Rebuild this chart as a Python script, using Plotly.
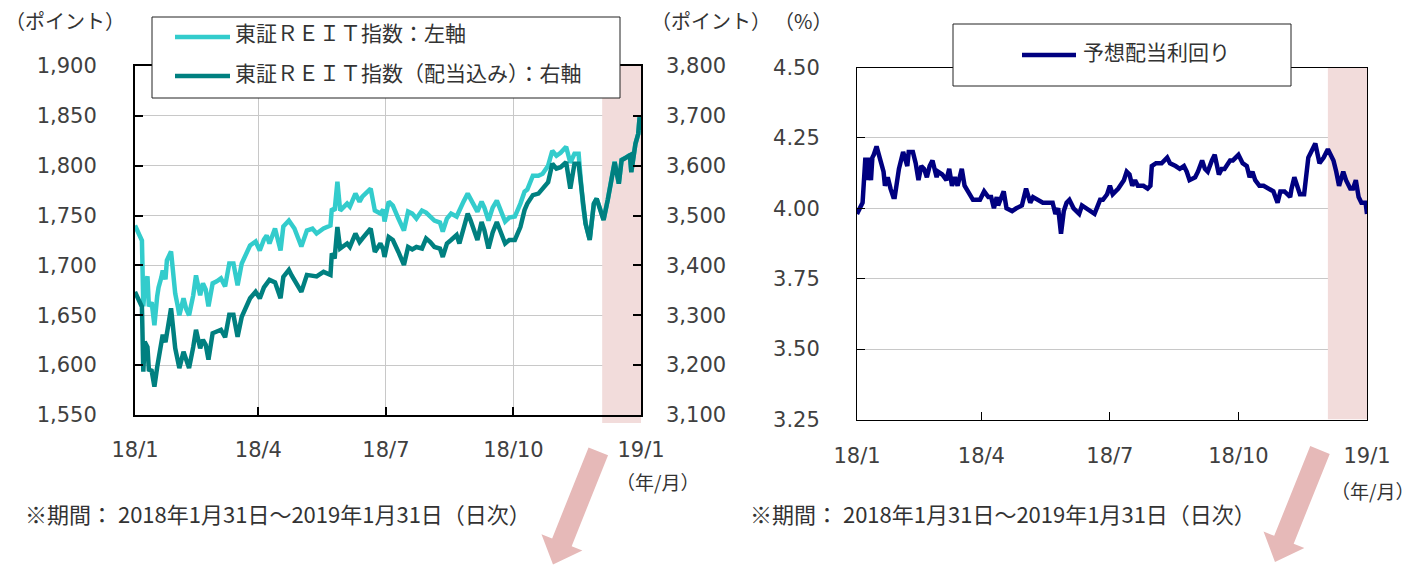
import plotly.graph_objects as go
import math

# ---------------- data ----------------
reit_dates = [
    "2018-01-31", "2018-02-05", "2018-02-06", "2018-02-07", "2018-02-09", "2018-02-10", "2018-02-12", "2018-02-14", "2018-02-16", "2018-02-17",
    "2018-02-19", "2018-02-20", "2018-02-22", "2018-02-23", "2018-02-26", "2018-03-01", "2018-03-03", "2018-03-04", "2018-03-07", "2018-03-09",
    "2018-03-11", "2018-03-14", "2018-03-16", "2018-03-19", "2018-03-21", "2018-03-23", "2018-03-25", "2018-03-28", "2018-03-31", "2018-04-03",
    "2018-04-06", "2018-04-09", "2018-04-12", "2018-04-15", "2018-04-18", "2018-04-21", "2018-04-24", "2018-04-28", "2018-05-01", "2018-05-04",
    "2018-05-06", "2018-05-08", "2018-05-12", "2018-05-16", "2018-05-18", "2018-05-22", "2018-05-24", "2018-05-26", "2018-05-31", "2018-06-04",
    "2018-06-08", "2018-06-11", "2018-06-16", "2018-06-21", "2018-06-22", "2018-06-24", "2018-06-26", "2018-06-28", "2018-07-03", "2018-07-05",
    "2018-07-09", "2018-07-12", "2018-07-14", "2018-07-20", "2018-07-23", "2018-07-27", "2018-07-29", "2018-07-30", "2018-08-02", "2018-08-05",
    "2018-08-09", "2018-08-13", "2018-08-16", "2018-08-19", "2018-08-22", "2018-08-26", "2018-08-29", "2018-09-01", "2018-09-04", "2018-09-08",
    "2018-09-10", "2018-09-13", "2018-09-16", "2018-09-20", "2018-09-22", "2018-09-25", "2018-09-28", "2018-09-30", "2018-10-05", "2018-10-08",
    "2018-10-10", "2018-10-13", "2018-10-16", "2018-10-19", "2018-10-21", "2018-10-25", "2018-10-28", "2018-11-01", "2018-11-05", "2018-11-08",
    "2018-11-10", "2018-11-14", "2018-11-18", "2018-11-21", "2018-11-25", "2018-11-28", "2018-12-01", "2018-12-04", "2018-12-08", "2018-12-11",
    "2018-12-14", "2018-12-17", "2018-12-20", "2018-12-22", "2018-12-25", "2018-12-28", "2018-12-30", "2019-01-01", "2019-01-04", "2019-01-07",
    "2019-01-09", "2019-01-12", "2019-01-15", "2019-01-17", "2019-01-20", "2019-01-23", "2019-01-24", "2019-01-27", "2019-01-29", "2019-01-30",
    "2019-01-31",
]
reit_index = [
    1740, 1725, 1659, 1678, 1689, 1659, 1663, 1640, 1669, 1678,
    1688, 1695, 1686, 1705, 1714, 1672, 1658, 1650, 1667, 1656,
    1650, 1670, 1690, 1670, 1682, 1676, 1659, 1682, 1684, 1687,
    1679, 1702, 1702, 1680, 1702, 1712, 1720, 1724, 1715, 1726,
    1730, 1722, 1737, 1715, 1739, 1745, 1740, 1737, 1719, 1735,
    1737, 1732, 1737, 1740, 1757, 1755, 1784, 1755, 1762, 1759,
    1772, 1764, 1769, 1777, 1755, 1752, 1756, 1744, 1764, 1760,
    1747, 1735, 1754, 1752, 1747, 1755, 1753, 1749, 1745, 1743,
    1734, 1747, 1752, 1749, 1756, 1764, 1772, 1767, 1754, 1764,
    1758, 1745, 1758, 1765, 1758, 1744, 1748, 1749, 1762, 1774,
    1776, 1790, 1790, 1792, 1800, 1815, 1810, 1813, 1819, 1803,
    1812, 1812, 1762, 1742, 1726, 1762, 1767, 1758, 1746, 1766,
    1783, 1804, 1782, 1806, 1808, 1811, 1794, 1822, 1832, 1849,
    1836,
]
reit_total_return = [
    3347, 3317, 3187, 3247, 3236, 3191, 3189, 3157, 3196, 3211,
    3236, 3261, 3246, 3266, 3314, 3234, 3211, 3194, 3227, 3208,
    3194, 3236, 3271, 3234, 3251, 3241, 3211, 3264, 3268, 3271,
    3256, 3301, 3301, 3257, 3297, 3318, 3334, 3347, 3334, 3356,
    3364, 3371, 3366, 3334, 3377, 3391, 3380, 3371, 3347, 3381,
    3378, 3378, 3387, 3381, 3424, 3414, 3477, 3434, 3444, 3437,
    3464, 3447, 3454, 3474, 3427, 3444, 3432, 3417, 3457, 3451,
    3427, 3401, 3437, 3432, 3437, 3434, 3454, 3447, 3437, 3434,
    3417, 3444, 3451, 3461, 3444, 3476, 3504, 3491, 3451, 3487,
    3471, 3434, 3466, 3487, 3474, 3444, 3451, 3451, 3477, 3511,
    3524, 3541, 3544, 3554, 3567, 3604, 3594, 3597, 3607, 3554,
    3604, 3604, 3524, 3484, 3451, 3524, 3534, 3516, 3491, 3531,
    3566, 3607, 3564, 3611, 3616, 3621, 3587, 3644, 3664, 3697,
    3671,
]

yield_dates = [
    "2018-01-31", "2018-02-04", "2018-02-06", "2018-02-07", "2018-02-08", "2018-02-10", "2018-02-11", "2018-02-12", "2018-02-14", "2018-02-16",
    "2018-02-19", "2018-02-20", "2018-02-22", "2018-02-24", "2018-02-26", "2018-02-27", "2018-03-02", "2018-03-05", "2018-03-06", "2018-03-08",
    "2018-03-09", "2018-03-12", "2018-03-14", "2018-03-16", "2018-03-18", "2018-03-20", "2018-03-22", "2018-03-24", "2018-03-26", "2018-03-29",
    "2018-03-30", "2018-04-02", "2018-04-05", "2018-04-07", "2018-04-09", "2018-04-11", "2018-04-13", "2018-04-16", "2018-04-18", "2018-04-22",
    "2018-04-24", "2018-04-29", "2018-05-02", "2018-05-05", "2018-05-07", "2018-05-09", "2018-05-11", "2018-05-12", "2018-05-16", "2018-05-18",
    "2018-05-22", "2018-05-25", "2018-05-29", "2018-06-01", "2018-06-04", "2018-06-06", "2018-06-10", "2018-06-13", "2018-06-17", "2018-06-20",
    "2018-06-22", "2018-06-24", "2018-06-26", "2018-06-28", "2018-06-30", "2018-07-02", "2018-07-05", "2018-07-09", "2018-07-11", "2018-07-14",
    "2018-07-17", "2018-07-20", "2018-07-24", "2018-07-26", "2018-07-29", "2018-07-31", "2018-08-02", "2018-08-06", "2018-08-10", "2018-08-12",
    "2018-08-14", "2018-08-16", "2018-08-18", "2018-08-20", "2018-08-24", "2018-08-27", "2018-08-29", "2018-08-30", "2018-09-02", "2018-09-06",
    "2018-09-10", "2018-09-12", "2018-09-16", "2018-09-19", "2018-09-22", "2018-09-24", "2018-09-26", "2018-09-30", "2018-10-02", "2018-10-05",
    "2018-10-07", "2018-10-09", "2018-10-12", "2018-10-14", "2018-10-17", "2018-10-19", "2018-10-21", "2018-10-25", "2018-10-27", "2018-10-31",
    "2018-11-03", "2018-11-06", "2018-11-08", "2018-11-10", "2018-11-12", "2018-11-15", "2018-11-18", "2018-11-22", "2018-11-25", "2018-11-28",
    "2018-11-30", "2018-12-03", "2018-12-07", "2018-12-08", "2018-12-10", "2018-12-12", "2018-12-14", "2018-12-17", "2018-12-20", "2018-12-22",
    "2018-12-25", "2018-12-28", "2018-12-31", "2019-01-03", "2019-01-07", "2019-01-09", "2019-01-11", "2019-01-14", "2019-01-16", "2019-01-19",
    "2019-01-21", "2019-01-23", "2019-01-25", "2019-01-27", "2019-01-30", "2019-01-31",
]
dividend_yield = [
    3.98, 4.02, 4.18, 4.10, 4.18, 4.10, 4.18, 4.19, 4.22, 4.18,
    4.13, 4.08, 4.11, 4.07, 4.04, 4.04, 4.14, 4.20, 4.18, 4.15,
    4.20, 4.20, 4.16, 4.10, 4.15, 4.14, 4.11, 4.15, 4.17, 4.11,
    4.13, 4.12, 4.10, 4.14, 4.08, 4.11, 4.08, 4.14, 4.08, 4.05,
    4.03, 4.03, 4.06, 4.04, 4.04, 4.00, 4.04, 4.01, 4.06, 4.00,
    3.99, 4.00, 4.01, 4.07, 4.02, 4.04, 4.03, 4.02, 4.02, 4.02,
    3.98, 4.00, 3.91, 3.99, 4.02, 4.03, 4.00, 3.98, 4.01, 4.00,
    3.99, 3.98, 4.03, 4.03, 4.05, 4.08, 4.05, 4.07, 4.10, 4.13,
    4.12, 4.08, 4.10, 4.08, 4.08, 4.07, 4.08, 4.15, 4.16, 4.16,
    4.18, 4.16, 4.15, 4.14, 4.15, 4.13, 4.10, 4.11, 4.13, 4.17,
    4.14, 4.13, 4.17, 4.19, 4.12, 4.14, 4.14, 4.17, 4.17, 4.19,
    4.16, 4.15, 4.11, 4.13, 4.10, 4.08, 4.08, 4.07, 4.06, 4.02,
    4.06, 4.06, 4.04, 4.07, 4.11, 4.08, 4.05, 4.05, 4.18, 4.20,
    4.23, 4.16, 4.18, 4.21, 4.17, 4.13, 4.08, 4.13, 4.10, 4.07,
    4.07, 4.10, 4.04, 4.02, 4.02, 3.98,
]

series_names = ["東証ＲＥＩＴ指数：左軸", "東証ＲＥＩＴ指数（配当込み）：右軸", "予想配当利回り"]
x_range = ["2018-01-31", "2019-01-31"]
x_tickvals = ["2018-01-31", "2018-04-30", "2018-07-31", "2018-10-31", "2019-01-31"]
x_ticktext = ["18/1", "18/4", "18/7", "18/10", "19/1"]
left_ticks = [1550, 1600, 1650, 1700, 1750, 1800, 1850, 1900]
right_ticks = [3100, 3200, 3300, 3400, 3500, 3600, 3700, 3800]
yield_ticks = [3.25, 3.50, 3.75, 4.00, 4.25, 4.50]
highlight_period = ["2019-01-03", "2019-01-31"]
period_note = "※期間： 2018年1月31日～2019年1月31日（日次）"

# ---------------- styling ----------------
W, H = 1418, 566
def px(x):
    return x / W
def py(y):
    return 1 - y / H

CYAN = "#33CCCC"
TEAL = "#008080"
NAVY = "#000080"
PINK = "#F2DCDB"
ARROW = "#E6B9B8"
GRID = "#C8C8C8"
TXT = "#333333"
TICKFONT = dict(family="DejaVu Sans", size=21, color="#404040")
JP = "Noto Sans CJK JP"

fig = go.Figure()
fig.add_trace(go.Scatter(x=reit_dates, y=reit_index, mode="lines", name=series_names[0],
                         line=dict(color=CYAN, width=4.5), xaxis="x", yaxis="y"))
fig.add_trace(go.Scatter(x=reit_dates, y=reit_total_return, mode="lines", name=series_names[1],
                         line=dict(color=TEAL, width=4.5), xaxis="x", yaxis="y2"))
fig.add_trace(go.Scatter(x=yield_dates, y=dividend_yield, mode="lines", name=series_names[2],
                         line=dict(color=NAVY, width=4.5), xaxis="x2", yaxis="y3"))

L_dom_x = [px(135), px(641)]
L_dom_y = [py(415), py(66)]
R_dom_x = [px(857), px(1367)]
R_dom_y = [py(419.5), py(67.5)]

common_x = dict(type="date", range=x_range, tickmode="array", tickvals=x_tickvals, ticktext=x_ticktext,
                ticks="inside", ticklen=8, tickfont=TICKFONT, showline=True, mirror=True,
                linecolor="black", zeroline=False, automargin=False)

fig.update_layout(
    width=W, height=H, autosize=False,
    margin=dict(l=0, r=0, t=0, b=0, pad=0),
    paper_bgcolor="white", plot_bgcolor="white",
    showlegend=False,
    xaxis=dict(common_x, domain=L_dom_x, anchor="y", linewidth=2, tickwidth=2, tickcolor="black",
               showgrid=True, gridcolor=GRID, gridwidth=1, ticklabelstandoff=15),
    yaxis=dict(domain=L_dom_y, anchor="x", range=[1550, 1900], tickmode="array", tickvals=left_ticks,
               tickformat=",d", ticks="inside", ticklen=8, tickwidth=2, tickcolor="black",
               tickfont=TICKFONT, showline=True, mirror=True, linecolor="black", linewidth=2,
               showgrid=True, gridcolor=GRID, gridwidth=1, zeroline=False, ticklabelstandoff=32,
               automargin=False),
    yaxis2=dict(overlaying="y", side="right", anchor="x", range=[3100, 3800], tickmode="array",
                tickvals=right_ticks, tickformat=",d", ticks="inside", ticklen=8, tickwidth=2,
                tickcolor="black", tickfont=TICKFONT, showline=False, showgrid=False, zeroline=False,
                ticklabelstandoff=24, automargin=False),
    xaxis2=dict(common_x, domain=R_dom_x, anchor="y3", linewidth=1, tickwidth=1, tickcolor="black",
                showgrid=False, ticklabelstandoff=17),
    yaxis3=dict(domain=R_dom_y, anchor="x2", range=[3.25, 4.50], tickmode="array", tickvals=yield_ticks,
                tickformat=".2f", ticks="inside", ticklen=8, tickwidth=1, tickcolor="black",
                tickfont=TICKFONT, showline=True, mirror=True, linecolor="black", linewidth=1,
                showgrid=True, gridcolor=GRID, gridwidth=1, zeroline=False, ticklabelstandoff=32,
                automargin=False),
)

shapes = []
# highlighted period (shaded band)
shapes.append(dict(type="rect", xref="x", yref="y", x0=highlight_period[0], x1=highlight_period[1],
                   y0=1550, y1=1900, fillcolor=PINK, line=dict(width=0), layer="between"))
shapes.append(dict(type="rect", xref="x", yref="paper", x0=highlight_period[0], x1=highlight_period[1],
                   y0=py(423), y1=py(416), fillcolor=PINK, line=dict(width=0), layer="below"))
shapes.append(dict(type="rect", xref="x2", yref="y3", x0=highlight_period[0], x1=highlight_period[1],
                   y0=3.25, y1=4.50, fillcolor=PINK, line=dict(width=0), layer="between"))

# legend boxes (decoration)
def legend_box(x0, y0, x1, y1):
    shapes.append(dict(type="rect", xref="paper", yref="paper", x0=px(x0), x1=px(x1), y0=py(y1), y1=py(y0),
                       fillcolor="white", line=dict(color="#222222", width=1), layer="above"))

def legend_line(x0, x1, y, color):
    shapes.append(dict(type="line", xref="paper", yref="paper", x0=px(x0), x1=px(x1), y0=py(y), y1=py(y),
                       line=dict(color=color, width=4.5), layer="above"))

legend_box(152, 17, 620, 98)
legend_line(175, 230, 37, CYAN)
legend_line(175, 230, 76, TEAL)
legend_box(953, 24, 1291, 86)
legend_line(1022, 1076, 55, NAVY)

# down arrows (decoration)
def arrow_path(tx, ty, hx, hy, w=10.5, hw=22, hl=24):
    L = math.hypot(hx - tx, hy - ty)
    ux, uy = (hx - tx) / L, (hy - ty) / L
    nx, ny = -uy, ux
    cx, cy = tx + (L - hl) * ux, ty + (L - hl) * uy
    pts = [
        (tx - w * nx, ty - w * ny), (tx + w * nx, ty + w * ny),
        (cx + w * nx, cy + w * ny), (cx + hw * nx, cy + hw * ny),
        (hx, hy),
        (cx - hw * nx, cy - hw * ny), (cx - w * nx, cy - w * ny),
    ]
    d = "M " + " L ".join(f"{px(a):.5f},{py(b):.5f}" for a, b in pts) + " Z"
    return dict(type="path", xref="paper", yref="paper", path=d, fillcolor=ARROW,
                line=dict(width=0), layer="above")

shapes.append(arrow_path(598.3, 451.3, 553.0, 564.6))
shapes.append(arrow_path(1320.0, 450.0, 1275.0, 562.0))

annotations = []
def text(t, x, y, size=20, xanchor="center", color=TXT):
    annotations.append(dict(text=t, xref="paper", yref="paper", x=px(x), y=py(y), xanchor=xanchor,
                            yanchor="middle", showarrow=False, font=dict(family=JP, size=size, color=color)))

text("（ポイント）", 65, 20)
text("（ポイント）", 711, 20)
text("（%）", 803, 20)
text("（年/月）", 657, 481, size=19)
text("（年/月）", 1416, 490, size=19, xanchor="right")
text(period_note, 23, 513, size=22, xanchor="left")
text(period_note, 748, 513, size=22, xanchor="left")
text(series_names[0], 233, 32, size=21, xanchor="left")
text(series_names[1], 233, 72, size=21, xanchor="left")
text(series_names[2], 1081, 51, size=21, xanchor="left")

fig.update_layout(shapes=shapes, annotations=annotations)
fig.write_html("out.html")
